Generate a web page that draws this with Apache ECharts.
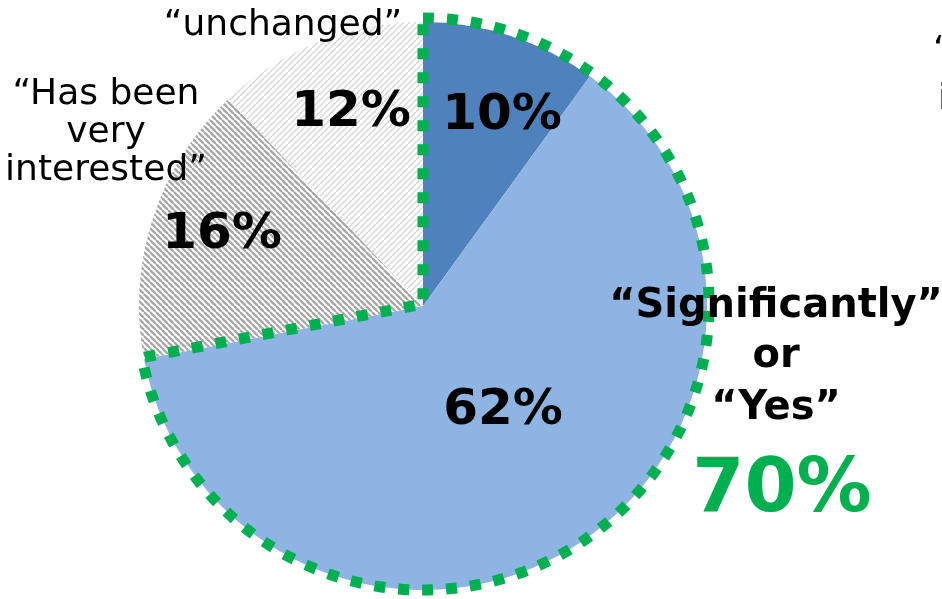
<!DOCTYPE html>
<html>
<head>
<meta charset="utf-8">
<script src="https://cdn.jsdelivr.net/npm/echarts@6/dist/echarts.min.js"></script>
<style>
html,body{margin:0;padding:0;background:#fff;}
#chart{width:942px;height:599px;}
</style>
</head>
<body>
<div id="chart"></div>
<script>
const categories = ['Significantly', 'Yes', 'Has been very interested', 'Unchanged'];
const values = [10, 62, 16, 12];
const percentLabels = ['10%', '62%', '16%', '12%'];
const highlightCount = 2; // first two slices form the "Significantly or Yes" group
const highlightLabel = '70%';
const groupLines = ['“Significantly”', 'or', '“Yes”'];
const sideLabelUnchanged = '“unchanged”';
const sideLabelInterested = ['“Has been', 'very', 'interested”'];
const cutLabel = ['“Somewhat', 'increased”'];

function hatch(color, lw, p, dir) {
  const c = document.createElement('canvas');
  c.width = p; c.height = p;
  const ctx = c.getContext('2d');
  ctx.fillStyle = '#ffffff';
  ctx.fillRect(0, 0, p, p);
  ctx.strokeStyle = color;
  ctx.lineWidth = lw;
  for (let k = -1; k <= 1; k++) {
    ctx.beginPath();
    if (dir === '\\') { ctx.moveTo(k * p, 0); ctx.lineTo(k * p + p, p); }
    else { ctx.moveTo(k * p, p); ctx.lineTo(k * p + p, 0); }
    ctx.stroke();
  }
  return { image: c, repeat: 'repeat' };
}

const sliceColors = ['#4f81bd', '#8eb4e3', hatch('#a8a8a8', 2.4, 6, '\\'), hatch('#d4d4d4', 1.3, 6, '/')];

const groupSum = values.slice(0, highlightCount).reduce((a, b) => a + b, 0);
const restSum = values.slice(highlightCount).reduce((a, b) => a + b, 0);

const chart = echarts.init(document.getElementById('chart'), null, { renderer: 'canvas' });
const regular = '36px "DejaVu Sans"';
const boldPct = 'bold 50px "DejaVu Sans"';
const boldGroup = 'bold 40px "DejaVu Sans"';

function txt(text, x, y, font, fill) {
  return { type: 'text', z: 100, style: { text, x, y, font, fill: fill || '#000', align: 'center', verticalAlign: 'middle' } };
}

const pctPos = [[502, 116], [503, 411], [222, 235], [351, 113]];
const graphics = [];
percentLabels.forEach((t, i) => graphics.push(txt(t, pctPos[i][0], pctPos[i][1], boldPct)));
groupLines.forEach((t, i) => graphics.push(txt(t, 776, [307, 357, 409][i], boldGroup)));
graphics.push(txt(highlightLabel, 782, 492, 'bold 75px "DejaVu Sans"', '#00b050'));
graphics.push(txt(sideLabelUnchanged, 283, 26, regular));
sideLabelInterested.forEach((t, i) => graphics.push(txt(t, 106, [95, 133, 171][i], regular)));
cutLabel.forEach((t, i) => graphics.push({ type: 'text', z: 100, style: { text: t, x: [933, 938][i], y: [52, 100][i], font: regular, fill: '#000', align: 'left', verticalAlign: 'middle' } }));

chart.setOption({
  backgroundColor: '#ffffff',
  animation: false,
  series: [
    {
      type: 'pie',
      silent: true,
      center: [423, 306],
      radius: 284,
      startAngle: 90,
      clockwise: true,
      label: { show: false },
      labelLine: { show: false },
      data: values.map((v, i) => ({ name: categories[i], value: v, itemStyle: { color: sliceColors[i], borderWidth: 0 } }))
    },
    {
      type: 'pie',
      silent: true,
      center: [423, 304],
      radius: 286,
      startAngle: 90,
      clockwise: true,
      z: 5,
      label: { show: false },
      labelLine: { show: false },
      data: [
        { name: 'group', value: groupSum, itemStyle: { color: 'rgba(0,0,0,0)', borderColor: '#00b050', borderWidth: 11, borderType: [11, 13], borderCap: 'butt', borderJoin: 'miter' } },
        { name: 'rest', value: restSum, itemStyle: { color: 'rgba(0,0,0,0)', borderWidth: 0 } }
      ]
    }
  ],
  graphic: graphics
});
</script>
</body>
</html>
